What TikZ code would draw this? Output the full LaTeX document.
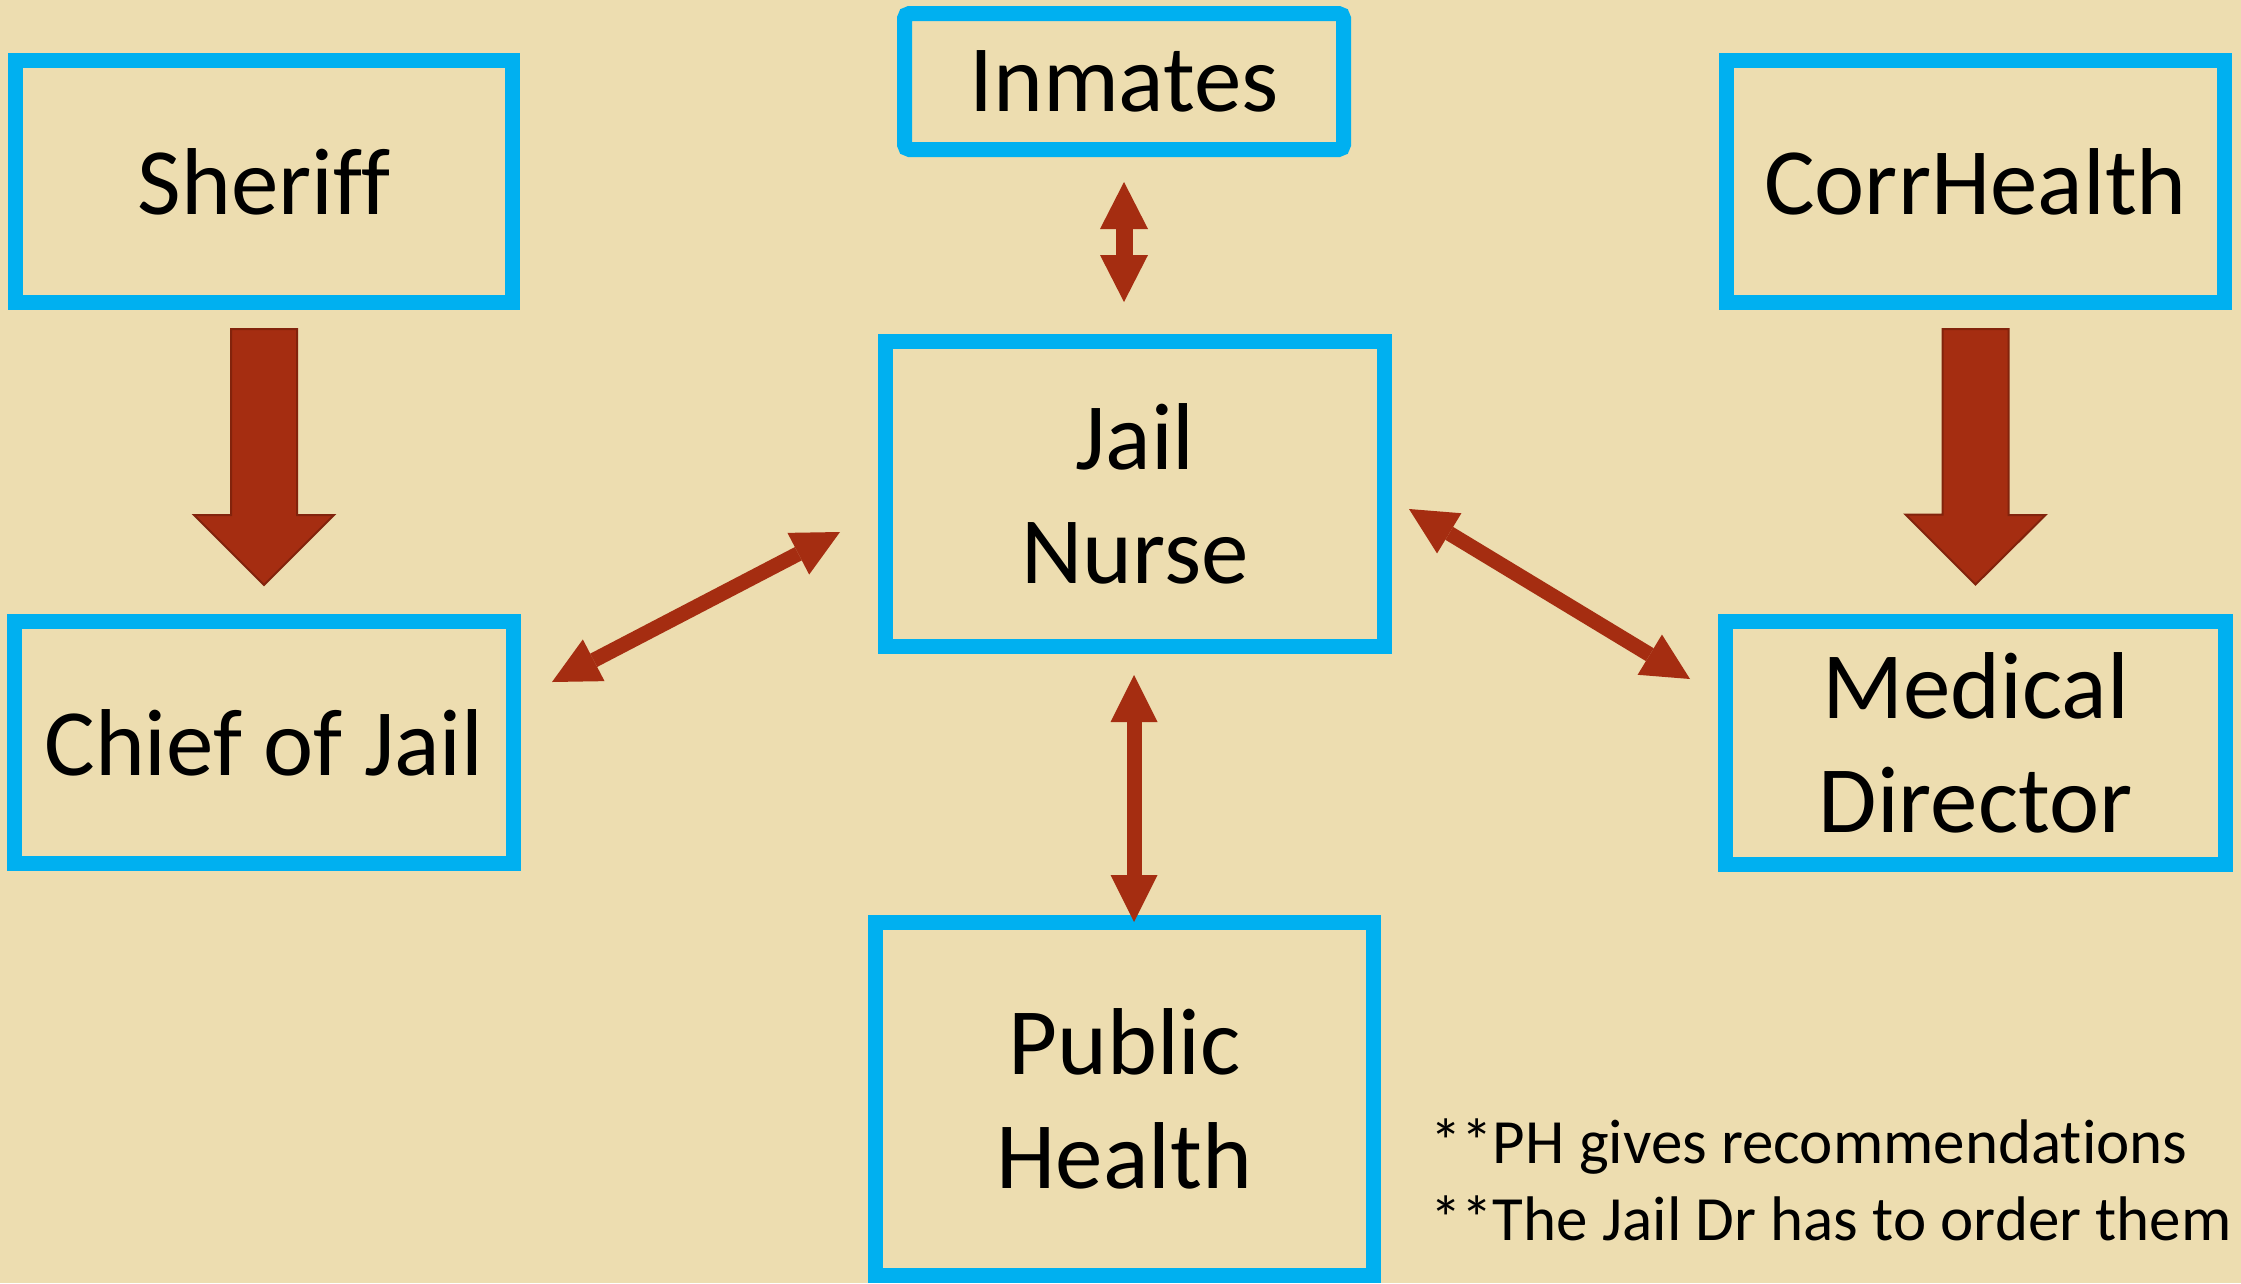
\documentclass[tikz,border=0pt]{standalone}
\usepackage{fontspec}
\setmainfont{Carlito}[Ligatures=NoCommon]
\usetikzlibrary{arrows.meta,calc}
\definecolor{parch}{RGB}{237,221,176}
\definecolor{boxblue}{RGB}{0,176,240}
\definecolor{arrred}{RGB}{165,45,17}
\definecolor{arrdark}{RGB}{130,35,12}
\tikzset{
  box/.style={draw=boxblue, line width=15pt, align=center, inner sep=0pt,
    font=\fontsize{95}{114}\selectfont},
  blockarrow/.style={fill=arrred, draw=arrdark, line width=2pt, line join=miter},
  duo/.style={draw=arrred, line width=15pt,
    {Triangle[width=47pt,length=47pt,line width=0pt]}-{Triangle[width=47pt,length=47pt,line width=0pt]}},
  duosmall/.style={draw=arrred, line width=17pt,
    {Triangle[width=48pt,length=47pt,line width=0pt]}-{Triangle[width=48pt,length=47pt,line width=0pt]}},
  note/.style={font=\fontsize{63}{77}\selectfont, anchor=base west, inner sep=0pt}
}
\begin{document}
\begin{tikzpicture}[x=1pt,y=-1pt]
\fill[parch] (0,0) rectangle (2241,1283);
\useasboundingbox (0,0) rectangle (2241,1283);

\node[box, minimum width=497pt, minimum height=242pt] (sheriff) at (264,181.5) {Sheriff};
\node[box, minimum width=499pt, minimum height=242pt] (chief) at (264,742.5) {Chief of Jail};
\node[box, minimum width=498pt, minimum height=242pt] (corr) at (1975.5,181.5) {CorrHealth};
\node[box, minimum width=500pt, minimum height=243pt] (medical) at (1975.5,742.5) {Medical\\Director};
\node[box, minimum width=499pt, minimum height=305pt] (nurse) at (1135,494) {Jail\\Nurse};
\node[box, rounded corners=5pt, minimum width=439pt, minimum height=136pt] (inmates) at (1124,81.5) {Inmates};
\node[box, minimum width=498pt, minimum height=353pt] (ph) at (1124.5,1099) {Public\\Health};

% block arrows
\draw[blockarrow] ($(sheriff.south)+(-33,19)$) -- ++(66,0) -- ++(0,186) -- ++(37,0)
  -- ($(chief.north)+(0,-29)$) -- ++(-70,-70) -- ++(37,0) -- cycle;
\draw[blockarrow] ($(corr.south)+(-33,19)$) -- ++(66,0) -- ++(0,186) -- ++(37,0)
  -- ($(medical.north)+(0,-29)$) -- ++(-70,-70) -- ++(37,0) -- cycle;

% double arrows
\draw[duosmall] ($(inmates.south)+(0,25)$) -- ($(nurse.north -| inmates.south)+(0,-32)$);
\draw[duo] ($(chief.east)+(31,-60.5)$) -- ($(nurse.west)+(-38,38)$);
\draw[duo] ($(nurse.east)+(17,15)$) -- ($(medical.west)+(-28,-63.5)$);
\draw[duo] ($(nurse.south)+(-1,21)$) -- ($(nurse.south |- ph.north)+(-1,7)$);

% notes
\node[note] (note1) at (1430,1163) {**PH gives recommendations};
\node[note] (note2) at (1430,1240) {**The Jail Dr has to order them};
\end{tikzpicture}
\end{document}
